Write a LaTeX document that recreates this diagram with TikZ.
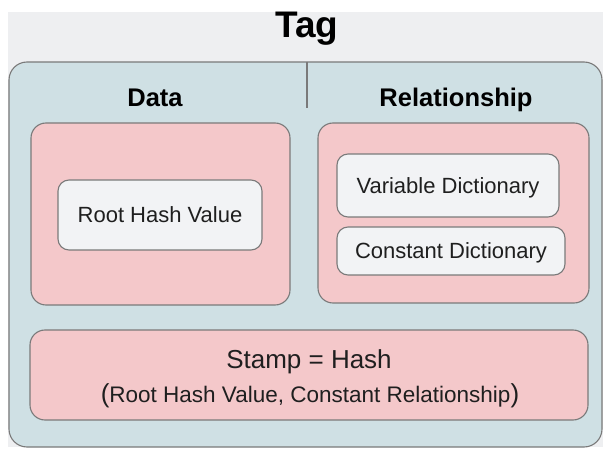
\documentclass[tikz,border=0pt]{standalone}
\usepackage{fontspec}
\setmainfont{Liberation Sans}
\begin{document}
\begin{tikzpicture}[x=1pt,y=-1pt,
  edge/.style={draw=black!52, line width=1.1pt},
  pinkbox/.style={edge, fill=pinkfill, rounded corners=15pt},
  itembox/.style={edge, rounded corners=11pt, fill=itemfill,
    font=\fontsize{22}{26}\selectfont, text=black!88,
    text height=16pt, text depth=0pt, inner sep=0pt},
  head/.style={font=\bfseries\fontsize{25.5}{30}\selectfont, text=black, anchor=base, inner sep=0pt},
  line/.style={anchor=base, inner sep=0pt, text=black!88}]
\definecolor{grayfill}{HTML}{EEEFF1}
\definecolor{tealfill}{HTML}{CFE0E4}
\definecolor{pinkfill}{HTML}{F4C8CA}
\definecolor{itemfill}{HTML}{F2F3F5}
\useasboundingbox (0,0) rectangle (603,449);
% page background and tag band
\fill[white] (0,0) rectangle (603,449);
\fill[grayfill] (8,12) rectangle (603,447);
\node[anchor=base, inner sep=0pt, font=\bfseries\fontsize{37}{44}\selectfont] (tag) at (307,38) {Tag};
% main container
\draw[edge, fill=tealfill, rounded corners=18pt] (9,62) rectangle (602,447);
\coordinate (divtop) at (307,62);
\coordinate (divbot) at (307,108);
\draw[edge] (divtop) -- (divbot);
\node[head] (data) at (155,107) {Data};
\node[head] (rel) at (456,107) {Relationship};
% data column
\node[pinkbox, minimum width=259pt, minimum height=182pt] (datapanel) at (160.5,214) {};
\node[itembox, minimum width=204pt, minimum height=70pt] (root) at (160,215) {Root Hash Value};
% relationship column
\node[pinkbox, minimum width=271pt, minimum height=180pt] (relpanel) at (453.5,213) {};
\node[itembox, minimum width=222pt, minimum height=63pt] (vardict) at (448,185.5) {Variable Dictionary};
\node[itembox, minimum width=228pt, minimum height=48pt] (constdict) at (451,251) {Constant Dictionary};
% stamp
\node[pinkbox, minimum width=558pt, minimum height=90pt] (stamp) at (309,375) {};
\node[line, font=\fontsize{26}{30}\selectfont] (stampeq) at (309,369) {Stamp = Hash};
\node[line, font=\fontsize{22.5}{26}\selectfont] (stampargs) at (310,402)
  {{\fontsize{26}{26}\selectfont(}Root Hash Value, Constant Relationship{\fontsize{26}{26}\selectfont)}};
\end{tikzpicture}
\end{document}
